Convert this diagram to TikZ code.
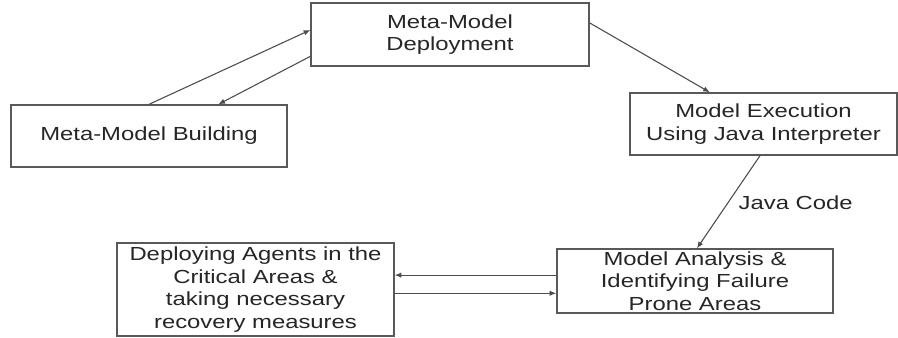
\documentclass[tikz,border=0pt]{standalone}
\usepackage{fontspec}
\setmainfont{Liberation Sans}[FakeStretch=1.26]
\usetikzlibrary{calc,arrows.meta}
\begin{document}
\begin{tikzpicture}[x=0.75pt,y=-0.75pt,
  box/.style={draw=black!65,line width=1pt,rectangle,inner sep=0pt,align=center,
    text=black!85,font=\fontsize{14.2pt}{17pt}\selectfont},
  flow/.style={draw=black!70,line width=0.8pt,-{Latex[length=5pt,width=4pt]}}]
\useasboundingbox (0,0) rectangle (898,338);
\fill[white] (0,0) rectangle (898,338);

\node[box,minimum width=208.5pt,minimum height=47.25pt] (dep) at (450,34.5)
  {Meta-Model\\Deployment};
\node[box,minimum width=207pt,minimum height=46.5pt] (build) at (149,136)
  {Meta-Model Building};
\node[box,minimum width=200.25pt,minimum height=46.5pt] (exec) at (763.5,124)
  {Model Execution\\Using Java Interpreter};
\node[box,minimum width=207.75pt,minimum height=69.75pt] (agents) at (255.5,289.5)
  {Deploying Agents in the\\Critical Areas \&\\taking necessary\\recovery measures};
\node[box,minimum width=207pt,minimum height=48pt] (analysis) at (695,281)
  {Model Analysis \&\\Identifying Failure\\Prone Areas};

% building <-> deployment
\draw[flow] (build.north) -- ($(dep.north west)!0.43!(dep.south west)$);
\draw[flow] ($(dep.north west)!0.84!(dep.south west)$) -- ($(build.north west)!0.75!(build.north east)$);
% deployment -> execution
\draw[flow] ($(dep.north east)!0.32!(dep.south east)$) -- ($(exec.north west)!0.30!(exec.north east)$);
% execution -> analysis
\draw[flow] ($(exec.south west)!0.487!(exec.south east)$) -- node[pos=0.505,anchor=west,xshift=7.5pt,inner sep=0pt,
  text=black!85,font=\fontsize{14.2pt}{17pt}\selectfont] (jc) {Java Code} ($(analysis.north west)!0.507!(analysis.north east)$);
% analysis <-> agents
\coordinate (a1) at ($(analysis.north west)!0.41!(analysis.south west)$);
\coordinate (a2) at ($(agents.north east)!0.54!(agents.south east)$);
\draw[flow] (a1) -- (agents.east |- a1);
\draw[flow] (a2) -- (analysis.west |- a2);
\end{tikzpicture}
\end{document}
